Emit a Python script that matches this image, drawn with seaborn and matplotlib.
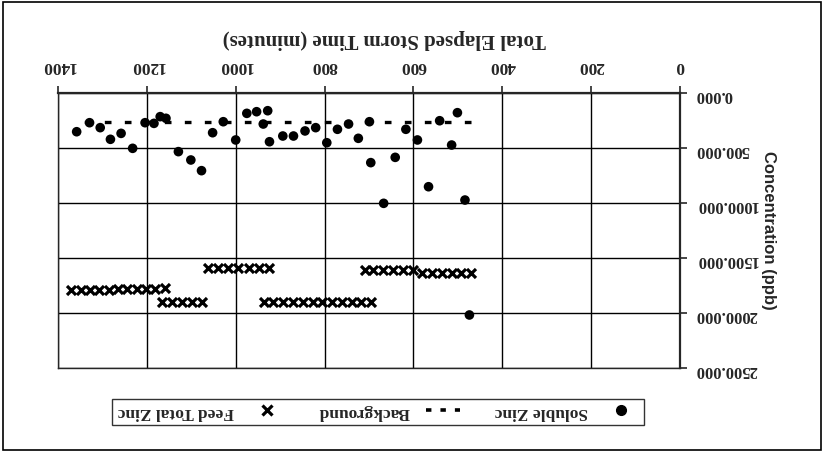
import matplotlib
matplotlib.use("Agg")
import matplotlib.pyplot as plt
import seaborn as sns
import pandas as pd
from matplotlib.lines import Line2D
from matplotlib.patches import Rectangle
from matplotlib.ticker import FormatStrFormatter, MultipleLocator

# Soluble zinc (minutes, ppb)
soluble_time = [1358, 1329, 1305, 1282, 1258, 1232, 1204, 1184, 1170, 1157,
                1129, 1101, 1077, 1052, 1028, 1000, 975, 953, 928, 938,
                924, 894, 870, 844, 820, 795, 771, 746, 724, 699,
                696, 667, 641, 617, 591, 566, 541, 514, 501, 484, 474]
soluble_conc = [352, 270, 315, 421, 367, 503, 270, 276, 215, 230,
                533, 609, 706, 361, 261, 427, 185, 170, 161, 282,
                443, 391, 391, 345, 315, 452, 330, 282, 412, 261,
                633, 1003, 585, 330, 427, 852, 252, 473, 179, 973, 2018]

# Background
background_time = [470, 1370]
background_conc = [260, 260]

# Feed total zinc
feed_time = [1160, 1181, 1202, 1223, 1244, 1265, 1286, 1307, 1328, 1349, 1370,
             1075, 1098, 1121, 1144, 1167,
             925, 948, 971, 994, 1017, 1040, 1063,
             695, 717, 739, 761, 783, 805, 827, 849, 871, 893, 915, 937,
             470, 492, 514, 536, 558, 580, 602, 624, 646, 668, 690, 710]
feed_conc = [1775, 1778, 1780, 1782, 1785, 1785, 1788, 1790, 1790, 1792, 1795,
             1897, 1897, 1897, 1897, 1897,
             1594, 1594, 1594, 1594, 1594, 1594, 1594,
             1897, 1897, 1897, 1897, 1897, 1897, 1897, 1897, 1897, 1897, 1897, 1897,
             1640, 1640, 1640, 1640, 1640, 1640, 1612, 1612, 1612, 1612, 1612, 1612]

sns.set_style("ticks")
plt.rcParams['font.family'] = ['Liberation Serif', 'DejaVu Serif']
plt.rcParams['font.weight'] = 'bold'

fig = plt.figure(figsize=(8.24, 4.54), dpi=100)
ax = fig.add_axes([58 / 824, 1 - 368 / 454, 622 / 824, 275 / 454])

sol = pd.DataFrame({'t': soluble_time, 'c': soluble_conc})
bg = pd.DataFrame({'t': background_time, 'c': background_conc})
feed = pd.DataFrame({'t': feed_time, 'c': feed_conc})

sns.scatterplot(data=sol, x='t', y='c', ax=ax, color='black', marker='o',
                s=48, edgecolor='none', zorder=4)
sns.lineplot(data=bg, x='t', y='c', ax=ax, color='black', linewidth=2.4,
             dashes=False, zorder=3)
ax.lines[-1].set_dashes((2, 4))
sns.scatterplot(data=feed, x='t', y='c', ax=ax, color='black', marker='x',
                s=42, linewidth=2.3, zorder=4)

# the whole chart is shown turned upside down
ax.set_xlim(0, 1400)
ax.set_ylim(0, 2500)
ax.invert_xaxis()
ax.invert_yaxis()
ax.xaxis.set_major_locator(MultipleLocator(200))
ax.yaxis.set_major_locator(MultipleLocator(500))
ax.yaxis.set_major_formatter(FormatStrFormatter('%.3f'))
ax.grid(True, color='black', linewidth=1.0)
for s in ax.spines.values():
    s.set_linewidth(1.0)
ax.spines['top'].set_linewidth(1.6)
ax.spines['right'].set_linewidth(1.6)

ax.xaxis.tick_top()
ax.yaxis.tick_right()
ax.tick_params(axis='x', labelrotation=180, labelsize=12.5, length=5, width=1.2, pad=9)
ax.tick_params(axis='y', labelrotation=180, labelsize=12, length=5, width=1.2, pad=6)
for lab in ax.get_xticklabels() + ax.get_yticklabels():
    lab.set_fontweight('bold')

ax.xaxis.set_label_position('top')
ax.yaxis.set_label_position('right')
ax.set_xlabel("Total Elapsed Storm Time (minutes)", fontsize=15,
              fontweight='bold', rotation=180, labelpad=10)
ax.xaxis.label.set_x(0.525)
ax.set_ylabel("Concentration (ppb)", fontsize=12, fontweight='bold',
              rotation=270, labelpad=8, va='center',
              family=['Liberation Sans', 'DejaVu Sans'])

handles = [
    Line2D([], [], color='black', marker='x', linestyle='none',
           markersize=7, markeredgewidth=2.3),
    Line2D([], [], color='black', linestyle=(0, (1.5, 2.5)), linewidth=2.6),
    Line2D([], [], color='black', marker='o', linestyle='none', markersize=7),
]
labels = ["Feed Total Zinc", "Background", "Soluble Zinc"]
leg = fig.legend(handles, labels, loc='center', ncol=3, markerfirst=False,
                 bbox_to_anchor=(378 / 824, 1 - 412 / 454), frameon=True,
                 fancybox=False, edgecolor='black',
                 handlelength=2.0, columnspacing=2.0, borderpad=0.3,
                 handletextpad=0.9,
                 prop={'weight': 'bold', 'size': 12.5})
leg.get_frame().set_linewidth(1.0)
for t in leg.get_texts():
    t.set_rotation(180)

fig.patches.append(Rectangle((0.004, 0.008), 0.992, 0.988, transform=fig.transFigure,
                             fill=False, edgecolor='black', linewidth=1.2))

fig.savefig("out.png", dpi=100)
